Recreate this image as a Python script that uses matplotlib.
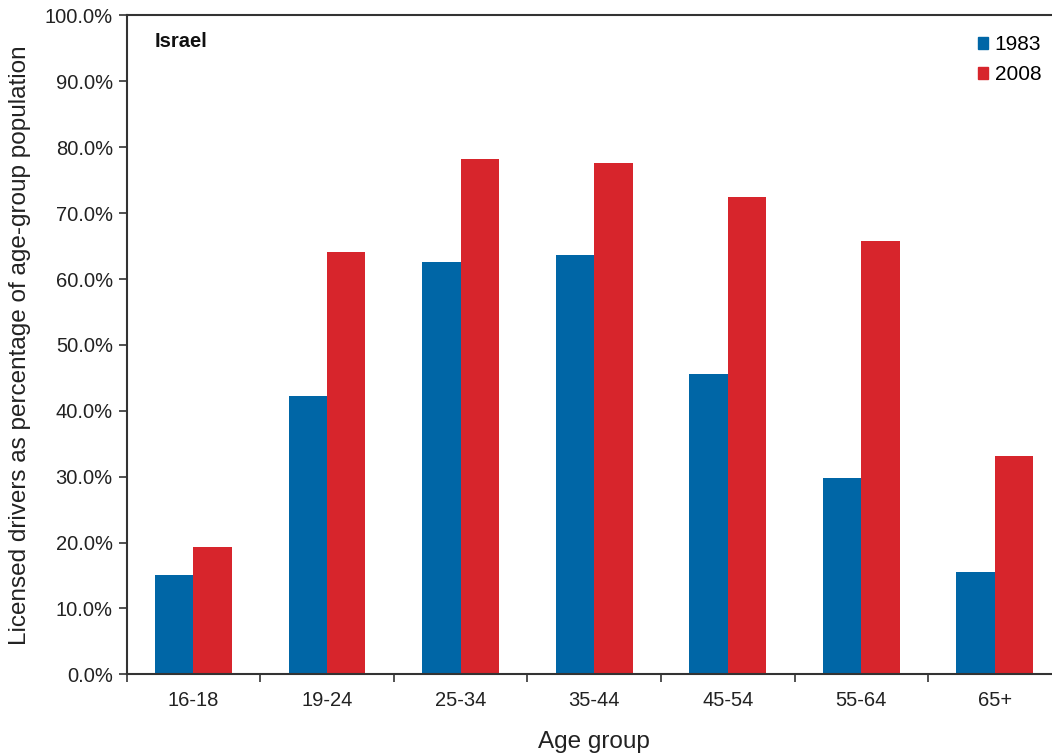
import matplotlib
matplotlib.use('Agg')
import numpy as np
import matplotlib.pyplot as plt
from matplotlib.patches import Patch
from matplotlib.ticker import FuncFormatter

plt.rcParams['font.family'] = ['Liberation Sans', 'DejaVu Sans']

# data
age_groups = ['16-18', '19-24', '25-34', '35-44', '45-54', '55-64', '65+']
share_1983 = [15.0, 42.3, 62.6, 63.6, 45.6, 29.8, 15.6]
share_2008 = [19.3, 64.1, 78.2, 77.6, 72.5, 65.8, 33.2]
years = ['1983', '2008']

blue = '#0066a6'
red = '#d7252c'
dark = '#333333'

fig = plt.figure(figsize=(10.52, 7.55), dpi=100)
# axes runs a little past the right edge, like the original crop
ax = fig.add_axes([0.1204, 0.1069, 0.8888, 0.8726])

x = np.arange(len(age_groups))
w = 0.288
ax.bar(x - w / 2, share_1983, w, color=blue)
ax.bar(x + w / 2, share_2008, w, color=red)

ax.set_xlim(-0.5, len(age_groups) - 0.5)
ax.set_ylim(0, 100)
ax.set_yticks(np.arange(0, 101, 10))
ax.yaxis.set_major_formatter(FuncFormatter(lambda v, p: '%.1f%%' % v))

# category labels centred, ticks on the boundaries
ax.set_xticks(x)
ax.set_xticklabels(age_groups)
ax.set_xticks(np.arange(-0.5, len(age_groups)), minor=True)
ax.tick_params(axis='x', which='major', length=0, pad=12, labelsize=14.5, labelcolor='#222222')
ax.tick_params(axis='x', which='minor', length=6, width=1.2, color=dark, direction='out')
ax.tick_params(axis='y', length=6, width=1.2, color=dark, labelsize=14.5, labelcolor='#222222', pad=4)

for s in ['left', 'bottom', 'top']:
    ax.spines[s].set_color(dark)
    ax.spines[s].set_linewidth(1.5)
ax.spines['right'].set_visible(False)

ax.set_xlabel('Age group', fontsize=17.5, color='#222222', labelpad=15)
ax.set_ylabel('Licensed drivers as percentage of age-group population', fontsize=17.5,
              color='#222222', labelpad=10)

ax.text(-0.29, 96, 'Israel', fontsize=14.5, fontweight='bold', va='center', ha='left', color='#111111')

handles = [Patch(color=blue), Patch(color=red)]
fig.legend(handles, years, loc='upper left', bbox_to_anchor=(978 / 1052, 1 - 35 / 755),
           frameon=False, fontsize=15, handlelength=0.5, handleheight=0.5,
           handletextpad=0.3, labelspacing=0.55, borderpad=0, borderaxespad=0)

fig.savefig('out.png', dpi=100)
